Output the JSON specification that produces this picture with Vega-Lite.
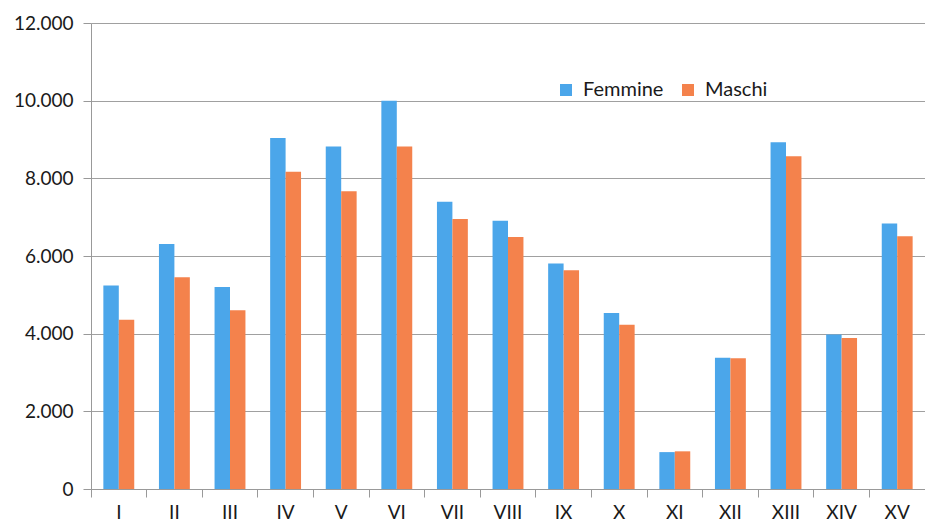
{
  "$schema": "https://vega.github.io/schema/vega-lite/v6.json",
  "autosize": "none",
  "width": 834,
  "height": 466,
  "padding": {"left": 91, "top": 23, "right": 0, "bottom": 35},
  "background": "white",
  "config": {
    "font": "Lato",
    "view": {"stroke": null},
    "axis": {"labelFont": "Lato", "labelFontSize": 19, "labelColor": "#1a1a1a"}
  },
  "data": {
    "values": [
      {"cat": "I", "sesso": "Femmine", "val": 5240},
      {"cat": "I", "sesso": "Maschi", "val": 4360},
      {"cat": "II", "sesso": "Femmine", "val": 6310},
      {"cat": "II", "sesso": "Maschi", "val": 5450},
      {"cat": "III", "sesso": "Femmine", "val": 5200},
      {"cat": "III", "sesso": "Maschi", "val": 4600},
      {"cat": "IV", "sesso": "Femmine", "val": 9040},
      {"cat": "IV", "sesso": "Maschi", "val": 8170},
      {"cat": "V", "sesso": "Femmine", "val": 8820},
      {"cat": "V", "sesso": "Maschi", "val": 7670},
      {"cat": "VI", "sesso": "Femmine", "val": 10000},
      {"cat": "VI", "sesso": "Maschi", "val": 8820},
      {"cat": "VII", "sesso": "Femmine", "val": 7400},
      {"cat": "VII", "sesso": "Maschi", "val": 6950},
      {"cat": "VIII", "sesso": "Femmine", "val": 6910},
      {"cat": "VIII", "sesso": "Maschi", "val": 6490},
      {"cat": "IX", "sesso": "Femmine", "val": 5810},
      {"cat": "IX", "sesso": "Maschi", "val": 5630},
      {"cat": "X", "sesso": "Femmine", "val": 4530},
      {"cat": "X", "sesso": "Maschi", "val": 4230},
      {"cat": "XI", "sesso": "Femmine", "val": 950},
      {"cat": "XI", "sesso": "Maschi", "val": 970},
      {"cat": "XII", "sesso": "Femmine", "val": 3380},
      {"cat": "XII", "sesso": "Maschi", "val": 3370},
      {"cat": "XIII", "sesso": "Femmine", "val": 8930},
      {"cat": "XIII", "sesso": "Maschi", "val": 8570},
      {"cat": "XIV", "sesso": "Femmine", "val": 3980},
      {"cat": "XIV", "sesso": "Maschi", "val": 3890},
      {"cat": "XV", "sesso": "Femmine", "val": 6840},
      {"cat": "XV", "sesso": "Maschi", "val": 6510}
    ]
  },
  "mark": {"type": "bar"},
  "encoding": {
    "x": {
      "field": "cat",
      "type": "nominal",
      "sort": ["I","II","III","IV","V","VI","VII","VIII","IX","X","XI","XII","XIII","XIV","XV"],
      "scale": {"paddingInner": 0, "paddingOuter": 0},
      "axis": {
        "title": null,
        "labelAngle": 0,
        "bandPosition": 0,
        "ticks": true,
        "tickSize": 8,
        "tickColor": "#999999",
        "domainColor": "#999999",
        "labelPadding": 6,
        "grid": false
      }
    },
    "xOffset": {
      "field": "sesso",
      "type": "nominal",
      "sort": ["Femmine", "Maschi"],
      "scale": {"paddingInner": 0, "paddingOuter": 0.8}
    },
    "y": {
      "field": "val",
      "type": "quantitative",
      "scale": {"domain": [0, 12000], "nice": false},
      "axis": {
        "title": null,
        "values": [0, 2000, 4000, 6000, 8000, 10000, 12000],
        "labelExpr": "replace(format(datum.value, ','), ',', '.')",
        "tickSize": 8,
        "tickColor": "#999999",
        "domainColor": "#999999",
        "gridColor": "#a0a0a0",
        "labelPadding": 10
      }
    },
    "color": {
      "field": "sesso",
      "type": "nominal",
      "scale": {"domain": ["Femmine", "Maschi"], "range": ["#4BA6EA", "#F4824C"]},
      "legend": {
        "title": null,
        "orient": "none",
        "direction": "horizontal",
        "legendX": 465,
        "legendY": 57,
        "padding": 0,
        "symbolType": "square",
        "symbolSize": 144,
        "symbolStrokeWidth": 0,
        "labelFont": "Lato",
        "labelFontSize": 20,
        "labelColor": "#1a1a1a",
        "labelOffset": 7,
        "columnPadding": 14
      }
    }
  }
}
